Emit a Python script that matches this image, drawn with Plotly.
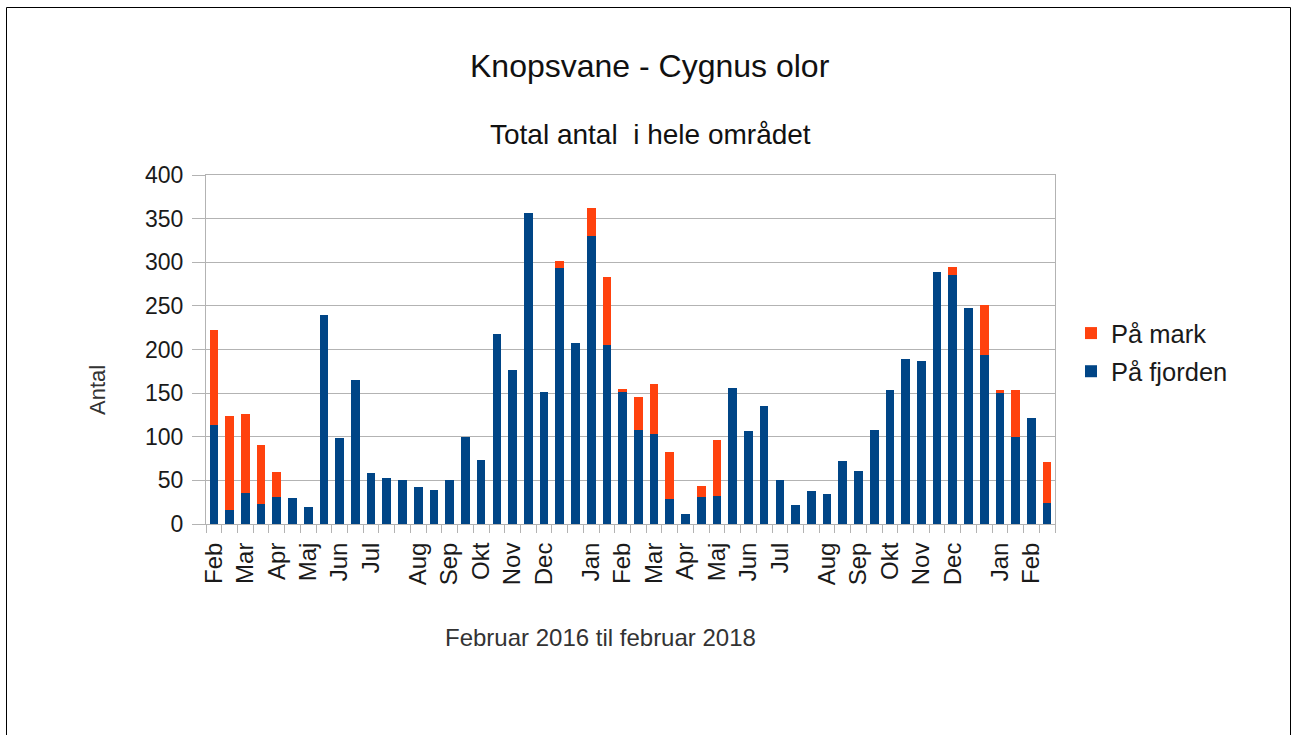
import plotly.graph_objects as go

# ---- data ----
month_labels = ["Feb", "", "Mar", "", "Apr", "", "Maj", "", "Jun", "",
                "Jul", "", "", "Aug", "", "Sep", "", "Okt", "", "Nov",
                "", "Dec", "", "", "Jan", "", "Feb", "", "Mar", "",
                "Apr", "", "Maj", "", "Jun", "", "Jul", "", "", "Aug",
                "", "Sep", "", "Okt", "", "Nov", "", "Dec", "", "",
                "Jan", "", "Feb", ""]

paa_fjorden = [113, 16, 36, 23, 31, 30, 19, 239, 99, 165,
               58, 53, 51, 42, 39, 50, 100, 73, 218, 176,
               357, 151, 293, 207, 330, 205, 151, 108, 103, 29,
               11, 31, 32, 156, 107, 135, 50, 22, 38, 34,
               72, 61, 108, 154, 189, 187, 289, 285, 247, 194,
               150, 100, 121, 24]

paa_mark = [109, 108, 90, 67, 29, 0, 0, 0, 0, 0,
            0, 0, 0, 0, 0, 0, 0, 0, 0, 0,
            0, 0, 9, 0, 32, 78, 4, 37, 58, 54,
            0, 13, 64, 0, 0, 0, 0, 0, 0, 0,
            0, 0, 0, 0, 0, 0, 0, 9, 0, 57,
            4, 54, 0, 47]

series_names = ["På fjorden", "På mark"]
series_colors = ["#004586", "#ff420e"]

title_text = "Knopsvane - Cygnus olor"
subtitle_text = "Total antal  i hele området"
x_title = "Februar 2016 til februar 2018"
y_title = "Antal"

# ---- figure ----
n = len(paa_fjorden)
xpos = list(range(1, n + 1))
tickvals = [x for x, lab in zip(xpos, month_labels) if lab]
ticktext = [lab for lab in month_labels if lab]
boundaries = [x - 0.5 for x in xpos] + [n + 0.5]

FONT = "Liberation Sans, Arial, sans-serif"
GRID = "#b3b3b3"

fig = go.Figure()
for name, vals, col, rank in [(series_names[0], paa_fjorden, series_colors[0], 2),
                              (series_names[1], paa_mark, series_colors[1], 1)]:
    fig.add_trace(go.Bar(x=xpos, y=vals, name=name, marker_color=col,
                         marker_line_width=0, legendrank=rank,
                         legendgroup=name))

# invisible helper trace for the category-boundary tick axis
fig.add_trace(go.Scatter(x=[], y=[], xaxis="x2", yaxis="y", showlegend=False,
                         hoverinfo="skip"))

W, H = 1292, 735
L, R, T, B = 206, 1055, 175, 524
pw, ph = R - L, B - T


def px_x(p):
    return (p - L) / pw


def px_y(p):
    return (B - p) / ph


fig.update_layout(
    width=W, height=H,
    margin=dict(l=L, r=W - R, t=T, b=H - B),
    paper_bgcolor="white", plot_bgcolor="white",
    barmode="stack", bargap=0.45,
    font=dict(family=FONT, color="#1a1a1a"),
    showlegend=True,
    legend=dict(x=px_x(1071), y=px_y(310), xanchor="left", yanchor="top",
                traceorder="grouped", tracegroupgap=2,
                font=dict(size=25.5, color="#1a1a1a"), itemwidth=30,
                bgcolor="rgba(0,0,0,0)"),
    xaxis=dict(range=[0.5, n + 0.5], tickmode="array", tickvals=tickvals,
               ticktext=ticktext, tickangle=-90, ticks="outside", ticklen=8,
               tickcolor="rgba(0,0,0,0)", tickfont=dict(size=24, color="#1a1a1a"),
               showgrid=False, zeroline=False, showline=True, linecolor=GRID,
               linewidth=1, mirror=True, fixedrange=True),
    xaxis2=dict(range=[0.5, n + 0.5], overlaying="x", anchor="y", side="bottom",
                tickmode="array", tickvals=boundaries, ticks="outside", ticklen=8,
                tickcolor=GRID, showticklabels=False, showgrid=False,
                zeroline=False, showline=False),
    yaxis=dict(range=[0, 400], dtick=50, tick0=0, ticks="outside", ticklen=13,
               tickcolor=GRID, showgrid=True, gridcolor=GRID, gridwidth=1,
               showline=True, linecolor=GRID, mirror=True, zeroline=False,
               tickfont=dict(size=23, color="#1a1a1a"), ticklabelstandoff=4),
    annotations=[
        dict(text=title_text, x=px_x(650), y=px_y(66), xref="paper", yref="paper",
             showarrow=False, xanchor="center", yanchor="middle",
             font=dict(size=32, color="#111111")),
        dict(text=subtitle_text, x=px_x(650), y=px_y(134), xref="paper", yref="paper",
             showarrow=False, xanchor="center", yanchor="middle",
             font=dict(size=28, color="#111111")),
        dict(text=x_title, x=px_x(600), y=px_y(637), xref="paper", yref="paper",
             showarrow=False, xanchor="center", yanchor="middle",
             font=dict(size=24, color="#333333")),
        dict(text=y_title, x=px_x(97), y=px_y(390), xref="paper", yref="paper",
             showarrow=False, xanchor="center", yanchor="middle", textangle=-90,
             font=dict(size=22, color="#333333")),
    ],
    shapes=[
        dict(type="rect", xref="paper", yref="paper",
             x0=px_x(6.5), x1=px_x(1290.5), y0=px_y(745), y1=px_y(7.5),
             line=dict(color="#000000", width=1), fillcolor="rgba(0,0,0,0)",
             layer="below"),
    ],
)

fig.write_html("out.html", config={"displayModeBar": False},
               post_script="document.body.style.margin='0';")
